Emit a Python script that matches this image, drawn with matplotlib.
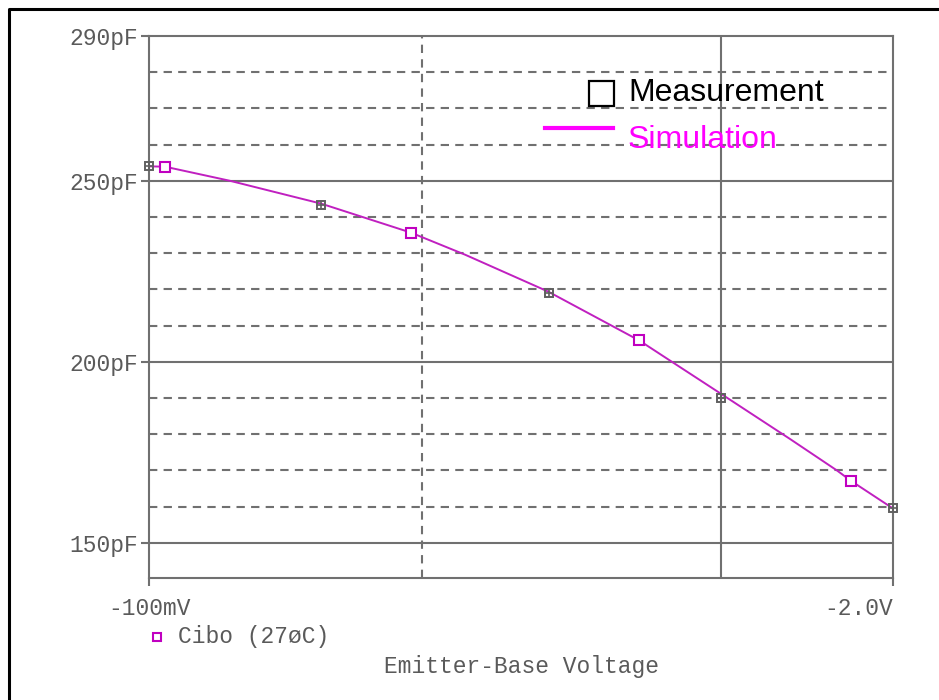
import matplotlib
matplotlib.use("Agg")
import matplotlib.pyplot as plt
from matplotlib.lines import Line2D

# Emitter-base voltage magnitudes (V) and capacitance (pF)
meas_volts = [0.1, 0.2, 0.5, 1.0, 2.0]
meas_cap = [254.0, 243.4, 219.1, 189.9, 159.5]

sim_volts = [0.1, 0.1067, 0.1386, 0.2, 0.287, 0.357, 0.499, 0.72, 0.838,
             1.0, 1.321, 1.596, 1.69, 2.0]
sim_cap = [254.0, 253.9, 250.0, 243.7, 235.7, 229.6, 219.4, 205.9, 199.1,
           191.2, 178.7, 170.0, 167.1, 159.5]

sim_mark_volts = [0.1067, 0.287, 0.72, 1.69]
sim_mark_cap = [253.9, 235.7, 205.9, 167.1]

y_ticks = [150, 200, 250, 290]
y_tick_labels = ["150pF", "200pF", "250pF", "290pF"]
x_ticks = [0.1, 2.0]
x_tick_labels = ["-100mV", "-2.0V"]

solid_h = [150, 200, 250]
dashed_h = [160, 170, 180, 190, 210, 220, 230, 240, 260, 270, 280]
solid_v = [1.0]
dashed_v = [0.3]

W, H = 939, 700
grid_col = "#707070"
text_col = "#5a5a5a"
mono = "Liberation Mono"

fig = plt.figure(figsize=(W / 100, H / 100), dpi=100)
fig.patch.set_facecolor("white")

def fx(px):
    return px / W

def fy(py):
    return 1 - py / H

ax = fig.add_axes([fx(149), fy(578), fx(893) - fx(149), fy(36) - fy(578)])
ax.set_xscale("log")
ax.set_xlim(0.1, 2.0)
ax.set_ylim(140.3, 290)

# grid
for v in solid_h:
    ax.axhline(v, color=grid_col, lw=1.5, zorder=1)
for v in dashed_h:
    ax.axhline(v, color=grid_col, lw=1.5, ls=(0, (4, 3)), zorder=1)
for v in solid_v:
    ax.axvline(v, color=grid_col, lw=1.5, zorder=1)
for v in dashed_v:
    ax.axvline(v, color=grid_col, lw=1.5, ls=(0, (4, 3)), zorder=1)

# simulation curve
ax.plot(sim_volts, sim_cap, color="#c020c0", lw=1.4, zorder=3)
ax.plot(sim_mark_volts, sim_mark_cap, ls="none", marker="s", ms=7.5,
        mfc="white", mec="#c000c0", mew=1.5, zorder=4)

# measurements
ax.plot(meas_volts, meas_cap, ls="none", marker="s", ms=6,
        mfc="none", mec="#606060", mew=1.4, zorder=5, clip_on=False)
ax.plot(meas_volts, meas_cap, ls="none", marker="+", ms=6,
        mec="#606060", mew=1.2, zorder=5, clip_on=False)

for s in ax.spines.values():
    s.set_color(grid_col)
    s.set_linewidth(1.5)

ax.minorticks_off()
ax.set_yticks(y_ticks)
ax.set_yticklabels(y_tick_labels)
ax.set_xticks(x_ticks)
ax.set_xticklabels(x_tick_labels)
ax.tick_params(axis="both", which="both", color=grid_col, width=1.5,
               length=6, labelcolor=text_col, labelsize=16.5)
ax.tick_params(axis="y", pad=2)
ax.tick_params(axis="x", pad=7.5)
for lab in ax.get_xticklabels() + ax.get_yticklabels():
    lab.set_family(mono)
ax.get_xticklabels()[1].set_horizontalalignment("right")

# in-plot legend
fig.add_artist(Line2D([fx(601)], [fy(93)], marker="s", ms=18, mfc="white",
                      mec="black", mew=1.6, ls="none"))
fig.text(fx(628), fy(93), "Measurement", color="black", fontsize=23,
         family="Liberation Sans", va="center", ha="left")
fig.add_artist(Line2D([fx(545), fx(613)], [fy(128), fy(128)],
                      color="#ff00ff", lw=3))
fig.text(fx(628), fy(140), "Simulation", color="#ff00ff", fontsize=23,
         family="Liberation Sans", va="center", ha="left")

# trace legend and axis title
fig.add_artist(Line2D([fx(157)], [fy(637)], marker="s", ms=6, mfc="white",
                      mec="#c000c0", mew=1.5, ls="none"))
fig.text(fx(178), fy(636), "Cibo (27øC)", color=text_col, fontsize=16.5,
         family=mono, va="center", ha="left")
fig.text(fx(522), fy(666), "Emitter-Base Voltage", color=text_col,
         fontsize=16.5, family=mono, va="center", ha="center")

# outer frame (left and top edges)
fig.add_artist(Line2D([fx(9), fx(9), fx(939)], [fy(700), fy(9), fy(9)],
                      color="black", lw=2.2))

fig.savefig("out.png", dpi=100)
